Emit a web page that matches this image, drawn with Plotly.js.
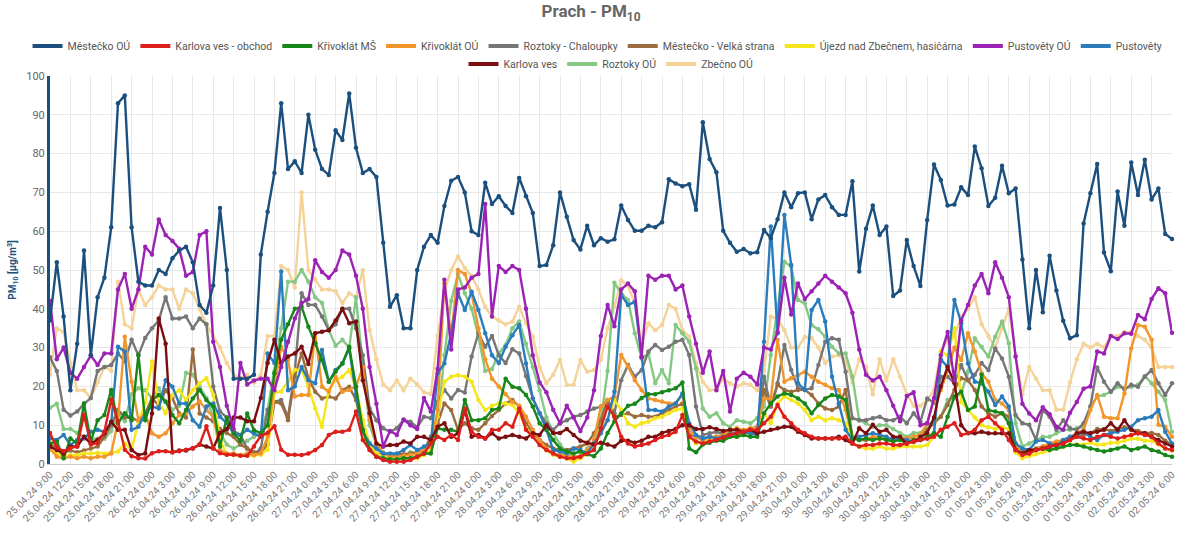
<!DOCTYPE html>
<html>
<head>
<meta charset="utf-8">
<script src="https://cdn.plot.ly/plotly-3.0.1.min.js"></script>
<style>
html,body{margin:0;padding:0;background:#fff;}
#chart{width:1182px;height:537px;}
</style>
</head>
<body>
<div id="chart"></div>
<script>
// Time axis: hourly from 25.04.24 9:00 to 02.05.24 6:00
const dayLabels = ['25.04.24','26.04.24','27.04.24','28.04.24','29.04.24','30.04.24','01.05.24','02.05.24'];
const firstHour = 9;
const pointCount = 166;
const tickStep = 3;

const mestecko = [
37,52,38,19,31,55,28,43,48,61,
93,95,61,47,46,46,50,49,53,55,
56,52,41,39,46,66,50,22,22,22,
23,54,65,75,93,76,78,75,90,81,
76,74.5,86,83.5,95.5,81.5,75,76,74,57,
40.5,43.5,35,35,50,56,59,57,66.5,73,
74,70,60,59,72.5,67,69,66.5,64.7,73.7,
69,64.7,51,51.3,56.4,70,63.7,57.7,55.3,61.4,
56.4,58.2,57.3,57.9,66.6,62.9,60.1,60.1,61.4,61,
62.3,73.4,72.3,71.6,72.1,65.5,88.1,78.6,75.2,60.1,
57,54.7,55.4,54.3,54.6,60.3,58.2,63.1,70,66.2,
69.8,70,63.1,68.2,69.3,66.2,64.2,64.2,72.9,49.6,
60.6,66.6,59,61.2,43.3,44.7,57.7,51,45.9,62.9,
77.2,73.2,66.6,66.9,71.3,69.3,81.8,76.2,66.5,68.6,
76.9,69.8,71,52.7,35,50,39.1,53.7,44.7,36.9,
32.4,33.2,62,69.8,77.3,54.5,49.7,70.2,61.4,77.7,
69.3,78.4,68.2,71,59.3,58];

const karlovaObchod = [
8,4.3,3.3,4.1,4.5,12.7,5,5.4,8.3,16.6,
11,3.7,2,1.5,1.4,2.8,3.3,3.3,3,3.3,
3.7,4.1,5,9.7,4.1,2.8,2.4,2.4,2.1,2.1,
4.5,7.2,8,9.7,3.7,2.4,2.4,2.3,2.7,3.6,
4.9,7.5,8.3,8.3,8.8,13.5,6.2,3.6,1.9,1,
0.6,0.6,0.6,1,1.9,2.7,5.3,7,6.2,7.5,
6.2,14.3,8.3,7,6.6,8.8,8.8,10.5,9.6,14.3,
8.8,7,4.9,3.6,2.7,1.9,1.5,1.5,1.9,2.7,
3.6,9.2,14.8,12.2,7,5.3,4.5,4.9,5.3,6.2,
7,7.5,8.3,12.6,7,5.8,5.3,5.8,6.2,6.8,
7.5,7.9,8.3,8.8,8.8,10.5,12.2,15.2,12.2,10.5,
8.8,7.9,7,6.6,6.6,6.6,6.6,7,5.3,4.5,
4.9,4.9,5.3,5.3,4.9,4.9,5.3,5.8,6.2,6.6,
7,8.8,9.6,10.5,7.5,7.9,8.8,11.3,12.2,10.5,
8.8,6.2,3.6,2.3,2.7,3.6,4,4.5,4.9,5.3,
6.2,7,6.6,6.2,7,7.5,7,6.6,7,7.5,
7.9,7.5,7,5.3,4,3.6];

const krivoklatMS = [
5.3,5.8,1.5,6.6,5.3,15.6,5.8,11.3,12.6,19.1,
10.5,13.1,11.3,28.1,11.3,16.5,17.8,16.1,12.6,10.5,
13.9,16.9,19.1,16.5,14.8,4.5,12,8,6,13,
8.7,8,10,23.4,32,36,40,40.5,35.4,31.1,
26.8,21.2,23.8,25.9,30.2,19.9,8.8,3.6,1.9,1.5,
1.2,1.2,1.5,1.5,1.9,2.7,2.7,9.2,8.8,8.8,
8.3,16.5,11.3,11.3,11.8,13.9,14.3,22,19.9,19.5,
17.8,14.8,10.5,8.8,6.2,4,3.2,2.7,3.2,2.5,
2,4,8,11,13,15,15.5,17,18,18,
18.5,19,19.5,21,4,3,5,5.5,6,6,
7,7,7.5,7,7,13.1,15.6,17.4,18.2,17.8,
16.9,15.6,13.1,15.2,16.9,17.8,17.4,16.5,6.6,6.2,
6.6,6.2,6.6,6.2,5.8,6.2,5.3,6.2,6.2,7,
7.9,7,12.2,17.4,18.6,13.9,14.8,23,13.9,13.5,
13.1,10.5,3.6,2.7,3.2,3.6,4,3.6,4,4.5,
4.9,4.9,4.5,4,3.6,3.2,3.6,4,4.5,3.6,
4,4.5,3.6,3.2,2.3,1.9];

const krivoklatOU = [
4,1.9,1.5,1.9,1.5,1.9,1.5,1.9,1.9,2.7,
11,32.8,21.2,11.3,13.1,7.9,7,7.9,10.5,12.6,
13.1,14.8,16.1,13.9,12.2,3.6,2.7,2.7,2.3,2.7,
2.3,2.7,7,20,30.2,26.8,17.4,17.8,17.8,33.7,
19.9,18.6,22.5,18.6,19.1,19.9,25,11.3,5.3,2.7,
1.9,1.9,2.1,2.3,2.7,3.6,4.5,13.9,46.6,33,
50,49,44,35,27,22,20,18,16,15,
12.2,8.8,6.2,4,2.7,2.3,2.3,1.9,1.9,3.6,
6.2,14.8,16.5,17.4,28.1,25.1,21.6,19.1,16.9,16.5,
16.1,15.6,15.6,17.8,8.8,7,6.2,7,7,7.5,
8.8,9.2,8.8,9.2,9.6,16.9,16.9,32,21.2,22.1,
22.9,23.8,22.5,21.2,20.4,19.5,19.1,13.9,7,6.2,
6.6,7,7,6.6,6.2,7,6.6,7,7.5,10.5,
16.5,19.1,24,30,26.8,33.7,29,23.4,21.2,16.5,
15.6,13.9,5.3,2.7,2.7,3.6,4.5,5.3,5.8,6.2,
7,7.9,8.8,13.9,17.8,12.2,11.8,11.8,18.2,29.8,
35.8,35.4,32,10.1,9.6,7];

const roztokyChaloupky = [
27.5,24,14,12.5,13.5,15.5,17,24,25,25.5,
28.5,26.5,32,28,32.5,35,37,43,37.5,37.5,
38,35,37.5,36,20,13.5,12,8.5,7.5,4,
2.5,4,14,16,16.5,12,24,44,41,41,
38,34.5,36,40,40,35,28,14.3,11.3,9.2,
8.3,9.2,11.3,10.9,9.5,12.2,11.8,16.1,19.1,16.9,
19.1,18.4,27.7,33.7,30.2,33,28,26,29.6,28.5,
22.7,16.9,13.1,10.5,8.8,10.5,11.3,12.2,12.6,13.5,
14.3,14.8,16.5,13.1,21.6,25.5,22.5,24.2,29,30.7,
29.4,30.2,31.5,32,28.1,14.8,7.5,7.9,8.3,7.7,
8.3,7.9,8.3,7.9,8.8,22.5,14.8,20.8,30.7,24.2,
19.5,19.1,19.5,25.5,31.5,32.4,32,23.8,11.8,11.3,
11.3,11.8,12.2,11.3,11.3,12.2,10.5,13.1,10.9,16.9,
15.8,22.5,22.5,20.8,25.5,21.6,23,26,24.2,29.8,
27.2,22.5,12.6,10.5,10.1,6.2,13.9,12.2,8.8,11.3,
9.2,8.8,10.5,14.8,24.9,21.2,18.6,20.8,19.2,20.4,
19.9,22.5,24.2,20.8,17.8,20.8];

const mesteckoVelka = [
5,4.5,3,3.5,3,3.5,4,4.5,7,10,
14,12,12,11,13,17,15,19,17,13,
12,29.5,13,12,11,9,8,7,5,4,
3,3,5,16,15.6,11.3,22.5,28.5,22.1,18.6,
16.9,17.4,16.9,19.1,19.9,16.5,8.8,4.5,2.7,2.3,
2.3,2.5,2.5,2.7,3,3.6,7,10.5,15.6,13.9,
8.8,10.5,9.2,8.8,10.5,12.4,13.9,15.6,16.5,14.8,
10.5,7.9,6.2,4.9,4,3.6,3.6,4,4.5,5.3,
7.9,11.3,16.5,12.2,12.6,13.1,12.2,12.6,12.2,12.2,
13.1,13.9,14.8,15.6,7.5,7,6.2,7,7,7.5,
7.5,7.5,7.9,7.9,8.3,19.1,14.8,20.4,19.1,18.6,
19.1,19.1,17.8,15.6,14.3,13.9,14.8,19.1,7,6.2,
6.2,6.5,6.5,6.5,6.2,6.5,6.5,7,7.5,8.8,
10.5,12.2,15.2,19.1,22.1,21.6,19.1,14.8,13.1,12.2,
13.1,12.2,4.5,3.5,3.5,4,4.5,5,5.5,6,
6.5,7,7.5,8,9,9,8.5,9,9.5,9,
8.5,8,8,7.5,6,5];

const ujezd = [
3.6,2.7,1.9,2.3,2.3,2.7,2.7,2.9,2.7,2.9,
3.2,5.3,3.6,10.9,15.7,26.4,15.7,13.1,17.8,19,
16.5,19,20.8,22.1,17.8,6.3,2.4,2.4,2.2,2.2,
2.2,2.4,3.7,18.3,18.7,21.3,24.3,24.2,19.9,14.3,
9.6,19.1,21.6,22.5,24.2,19.5,11.3,5.3,2.7,1.9,
1.5,1.2,1.2,1.2,1.5,2.3,3.6,12.2,21.2,22.5,
22.9,22.5,21.2,16.5,13.9,15,15.6,15.6,15.2,13.1,
9.2,7,4.9,3.6,2.3,1.9,1.5,0.6,1.5,2.7,
4.5,8.8,11.3,16.5,13.9,10.5,9.6,10.5,10.9,11.8,
12.2,13.1,13.9,14.3,7,5.3,5.8,6,6.2,6.5,
7,7,7.5,7.5,7.9,13.1,10.5,15.6,17.4,16.5,
15.6,13.9,11.3,12.2,11.3,11.8,11.3,10.5,5.3,4.5,
4,4,4.5,4,4,4.5,4.5,4.5,4.5,4.9,
7,29,28,35,16,14,12,10,9.5,9,
9.5,9,3,1.5,2,2.5,3,3.5,4,4.5,
5,5,5,5.5,5,5,5.5,5.5,6,6.5,
6.5,6,6,5,4,3.5];

const pustovetyOU = [
42,27,30,23.5,22,25,28,25.5,28.5,28.5,
45,49,40,45,56,54,63,59,57.5,55.5,
48.5,49.5,59,60,31.5,25,15,9,26,20.5,
21.5,22,22,19,25,31.5,37.5,41.5,42.5,52.5,
49.5,48,50,55,54,48.5,40,25,15.5,4.5,
8.5,7.5,11.5,10,9,17,13.5,24.5,47.5,29.5,
45,45.5,48,49,67,38,51,49.5,51,50,
40,28,21,18.5,14,10.5,15,12,8.5,12,
19,33,41,35.5,45,46.5,44.5,27.5,48.5,47.5,
48.5,48.5,45,46,38,31,23.5,29,19,24,
13.5,22,23.5,22.5,20.5,30,29.5,34,48,38.5,
46.5,42.5,44.5,46.5,48.5,47,45.5,44,39,29.5,
23,21.5,22.5,19,15,11,17.5,18.5,10,10.5,
17,28,34,21.5,37,41,46,49,44,52,
48,43,27.7,15.5,13,11.3,14.6,12.8,9.6,8.8,
13.2,16,19.4,20,29,28.5,33,32.2,33.7,33.6,
38.4,37.3,42.5,45.3,44,33.8];

const pustovety = [
6.6,6.2,7.5,4.9,6.2,6.6,8.3,8.8,8.3,10.5,
30.2,29,8.8,9.6,13.1,14.8,14.3,21.6,19.9,15.6,
15.6,11.3,9.6,14.8,15.6,12.2,10.5,7.9,7.5,8.8,
7.9,7,28.5,26,49.6,19,20,25,21.6,20.8,
29.4,21.2,24.2,25.9,29.8,17.8,8.3,5.3,4,2.7,
2.7,2.7,3.6,4.9,3.6,4.5,5.3,23.4,25.9,33.7,
44,39.7,44.4,39.7,33.7,28,26,30.2,33.2,35.8,
25.9,16.9,13.1,8.8,3.6,3.2,2.7,4,3.6,2.7,
5.3,7.9,11.3,18.6,43.6,41,41.8,27.7,13.9,13.9,
13.5,14.8,15.6,18.2,10.5,7.5,6.6,7,6.6,7,
7.5,7.9,8.3,7.9,7.5,31.5,61.2,33.7,64.2,51.3,
20.8,19.1,39.7,42.3,36.7,22.5,15.6,8.8,6.2,7,
7.5,7.9,7.5,7,6.2,6.6,6.2,5.8,6.2,6.6,
7.9,27,25,42.3,36.3,25.9,21.2,20.8,18.6,15.2,
17.4,14.8,5.3,4,3.6,5.8,6.2,5.3,4.5,6.2,
7,7.5,8.3,7,6.2,7.5,7.9,8.3,8.8,9.6,
11.3,11.8,12.2,13.9,8.3,5.3];

const karlovaVes = [
4.5,3.6,2.7,4.5,4.5,7,5.3,6.2,7.9,10.9,
8.8,8.8,3.6,2.3,2.7,13,37.5,31,3,3.5,
3.5,4,5,4.5,4,8,9,12,12,11,
11,17,26,32,26,27.7,28.5,30.2,25.8,33.7,
34.1,34.5,37,40,36.3,36.7,21.6,13.1,5.3,4.5,
4.9,4.9,5.8,5.3,7,7,6.2,9.6,10.5,7,
7.9,13.9,7,7.5,6.6,7.9,6.6,7,7.5,7,
6.6,7.9,7.5,10,8,8,9,7.5,6,5.5,
5,5.5,5,4.5,6,6,5.5,6,7,7,
8,8.5,9,10,10,9,9,9.5,9,8.5,
8.8,8.8,8.3,8.8,7.9,8.3,8.8,9.2,9.6,9.6,
8.3,7.5,6.6,6.6,6.6,6.6,7,6.2,5.3,9.2,
7.9,10.1,8.3,8.8,7,7,5.3,5.8,7,8,
12,20,25,21,10,8,7.9,8.3,7.9,7.9,
7.9,7.9,3.6,2.7,3.6,3.6,4,4.5,4.9,5.3,
6.2,7.9,8.3,7.9,8.3,8.8,10.5,8.8,11.3,8.8,
7.9,7.9,7,6.2,5.3,4.5];

const roztokyOU = [
14.5,15.5,9,9,8,7,6.5,6.5,6.5,8.5,
13,11,18,19.5,19,17,19.5,16,14,15,
23.5,23,20,17,12,8,5,4,5,6,
7,8,14,24,35,47,47,50,47,43,
41.5,34.5,30.5,32,30,43,25,10,5,3,
2,2,2,3,3,2.5,3,10,28,42,
49,44,40,33,24,24.5,28.5,30.7,35,36.7,
31,25,19,12,8,5,3,2,2,4,
5,11,24,46.7,44,42.3,33.7,27.2,28.5,20.8,
24.2,20.8,35.8,33.7,31.5,24.7,14.3,12.2,13.1,10.5,
9.6,11.3,10.9,10.5,11.8,14.8,28.1,39.7,52.1,50.9,
42.3,41.4,35.8,34.7,32.8,30.2,28.5,28.5,22.5,11.3,
10.5,9.6,10,10,9,8,7,8,8,10,
11,12.2,16.5,16.9,18.2,23.8,32.4,30.2,27.7,32.8,
36.7,31.1,10.5,4.5,5.3,6.2,7,7,7.9,8.8,
8.8,9.2,9.6,14.8,17.4,17.8,18.6,19.9,19.5,19.9,
20.4,22.7,20.8,18.6,16.5,8.3];

const zbecno = [
23,35,34,26,19,19,17,21,25,24,
47,36,35,45,41,43,46,45,45,40,
45,44,40,36,33,30,26,23,22,23,
21,23,33,33,51,50,45.5,70,50,47.5,
45,45,44.5,41.5,44,43,50,34.5,27,20.5,
19,21.5,19,22,20.5,18.5,18,33,44.5,50,
53.5,50.5,48.5,45,40.5,38,37,36,36.7,40.5,
36.3,32.8,25,20.8,23,26.8,20.4,20.4,26.8,23.8,
24.2,26.8,35,40.5,47.3,46,41.4,31,36.3,34.5,
35.8,41,40,34.5,32.8,26,21.2,19,19.3,22,
20.8,20,20.8,20.4,19,24,38,37.5,34.5,30,
30,32.8,32.4,30,26,27.7,28,27,21,27,
25,18,27,21.5,27,22.5,18,15,15,16.5,
19,29,32,33,38,40,43,36,33,30,
35,40,28,18,25,22,19,19,14,14,
21,27,31,30,31,30,33,33,34,34,
33,32,30,25,25,25];

const seriesNames = ['Městečko OÚ','Karlova ves - obchod','Křivoklát MŠ','Křivoklát OÚ','Roztoky - Chaloupky','Městečko - Velká strana','Újezd nad Zbečnem, hasičárna','Pustověty OÚ','Pustověty','Karlova ves','Roztoky OÚ','Zbečno OÚ'];
const seriesValues = [mestecko, karlovaObchod, krivoklatMS, krivoklatOU, roztokyChaloupky, mesteckoVelka, ujezd, pustovetyOU, pustovety, karlovaVes, roztokyOU, zbecno];
const seriesColors = ['#1b4f7d','#dd1f1c','#17871a','#f2962c','#767676','#9b6c3e','#f5e61c','#9b22b5','#2a7cbc','#7a0e10','#85c884','#f5d398'];

// build hourly category labels
const times = [];
for (let k = 0; k < pointCount; k++) {
  const h = firstHour + k;
  times.push(dayLabels[Math.floor(h / 24)] + ' ' + (h % 24) + ':00');
}
const tickVals = times.filter((_, k) => k % tickStep === 0);

const traces = [];
const drawOrder = [11, 10, 4, 5, 6, 3, 8, 2, 9, 1, 7, 0];
drawOrder.forEach(idx => {
  traces.push({
    x: times, y: seriesValues[idx], name: seriesNames[idx],
    type: 'scatter', mode: 'lines+markers',
    line: {color: seriesColors[idx], width: 2.4},
    marker: {color: seriesColors[idx], size: 4.5},
    cliponaxis: false, hoverinfo: 'skip', showlegend: false
  });
});
// legend entries (line only), in legend order
seriesNames.forEach((nm, idx) => {
  traces.push({
    x: [times[0]], y: [seriesValues[idx][0]], name: nm,
    type: 'scatter', mode: 'lines',
    line: {color: seriesColors[idx], width: 4},
    hoverinfo: 'skip', showlegend: true,
    legend: idx < 9 ? 'legend' : 'legend2'
  });
});

const legendFont = {family: 'Roboto, Arial, sans-serif', size: 10.5, color: '#555'};
const layout = {
  width: 1182, height: 537,
  margin: {l: 50, r: 10, t: 76, b: 73},
  paper_bgcolor: '#fff', plot_bgcolor: '#fff',
  font: {family: 'Roboto, Arial, sans-serif', color: '#666'},
  title: {text: '<b>Prach - PM<sub>10</sub></b>', x: 0.5, xanchor: 'center', y: 0.99, yanchor: 'top',
          font: {family: 'Roboto, Arial, sans-serif', size: 17, color: '#666'}},
  showlegend: true,
  legend: {orientation: 'h', x: -0.02, xanchor: 'left', y: 1.115, yanchor: 'top', font: legendFont,
           itemwidth: 30, bgcolor: 'rgba(0,0,0,0)'},
  legend2: {orientation: 'h', x: 0.5, xanchor: 'center', y: 1.068, yanchor: 'top', font: legendFont,
            itemwidth: 30, bgcolor: 'rgba(0,0,0,0)'},
  xaxis: {
    type: 'category', range: [0, pointCount - 1], tickmode: 'array', tickvals: tickVals, ticktext: tickVals,
    tickangle: -45, tickfont: {size: 10, color: '#777'}, showgrid: true, gridcolor: '#e8e8e8', gridwidth: 1,
    showline: true, linecolor: '#cccccc', linewidth: 1, ticks: '', zeroline: false, fixedrange: true
  },
  yaxis: {
    range: [0, 100], dtick: 10, tickfont: {size: 11, color: '#666'}, showgrid: true, gridcolor: '#e8e8e8',
    showline: true, linecolor: '#1b4f7d', linewidth: 3, ticks: '', zeroline: false,
    title: {text: '<b>PM<sub>10</sub> [µg/m<sup>3</sup>]</b>', font: {size: 10, color: '#1b4f7d'}, standoff: 8},
    fixedrange: true
  },
  hovermode: false
};
Plotly.newPlot('chart', traces, layout, {displayModeBar: false, staticPlot: true});
</script>
</body>
</html>
